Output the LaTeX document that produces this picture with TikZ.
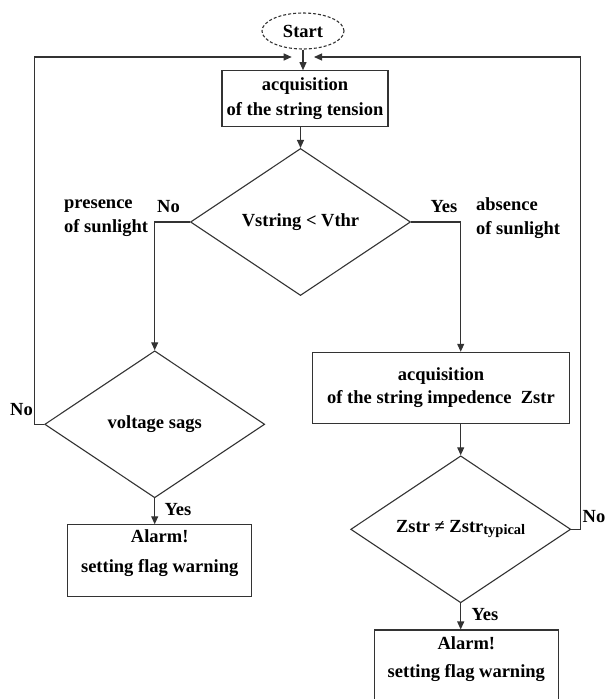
\documentclass[tikz,border=0pt]{standalone}
\usepackage{fontspec}
\setmainfont{Liberation Serif}
\usetikzlibrary{shapes.geometric,arrows.meta,positioning}

\begin{document}
\begin{tikzpicture}[x=1pt, y=-1pt,
  every node/.style={font=\fontsize{18.5}{24}\selectfont\bfseries, text=black},
  box/.style={draw=black!80, line width=1.1pt, inner sep=0pt, align=center},
  decision/.style={draw=black!80, line width=1.1pt, diamond, inner sep=0pt,
    minimum width=220pt, minimum height=147pt},
  arr/.style={draw=black!80, line width=1.1pt, -{Triangle[length=8pt,width=7pt]}},
  lbl/.style={inner sep=0pt}]
  \path[fill=white, use as bounding box] (0,0) rectangle (607,699);

  % Start and first acquisition
  \node[box, ellipse, densely dashed, minimum width=82pt, minimum height=36pt] (start) at (303,31) {Start};
  \node[box, minimum width=166pt, minimum height=56pt] (tension) at (305,98.7) {acquisition\\[1pt]of the string tension};
  \node[decision] (vcheck) at (300.5,222) {Vstring < Vthr};

  % --- left branch (presence of sunlight) ---
  \node[decision] (sags) at (154.7,424.3) {voltage sags};
  \node[box, minimum width=184pt, minimum height=72pt] (alarmA) at (159.7,560.8) {Alarm!\\[6pt]setting flag warning\rule[-20pt]{0pt}{20pt}};

  % --- right branch (absence of sunlight) ---
  \node[box, minimum width=257pt, minimum height=71pt] (impedance) at (441,387.8) {acquisition\\[-1pt]of the string impedence~~Zstr};
  \node[decision] (zcheck) at (460.7,529.3) {Zstr ≠ Zstr{\fontsize{14.5}{14.5}\selectfont\raisebox{-2pt}{typical}}};
  \node[box, minimum width=184pt, minimum height=72pt] (alarmB) at (466.3,666) {Alarm!\\[4pt]setting flag warning\rule[-18pt]{0pt}{18pt}};

  % Labels
  \node[lbl] (noA) at (168.5,207) {No};
  \node[lbl, align=left, anchor=west] (sunA) at (64,218) {presence\\of sunlight};
  \node[lbl] (yesA) at (444,207) {Yes};
  \node[lbl, align=left, anchor=west] (sunB) at (476,218) {absence\\of sunlight};
  \node[lbl] (noB) at (21.5,410) {No};
  \node[lbl] (yesB) at (178,510) {Yes};
  \node[lbl] (noC) at (594,517) {No};
  \node[lbl] (yesC) at (485,615) {Yes};

  % Connectors
  \coordinate (inL) at (291.7,57);
  \coordinate (inR) at (314,57);
  \draw[arr] (start) -- (start |- tension.north);
  \draw[arr] (vcheck.north |- tension.south) -- (vcheck.north);
  \draw[arr] (vcheck.west) -| (sags.north);
  \draw[arr] (vcheck.east) -| (zcheck.north |- impedance.north);
  \draw[arr] (zcheck.north |- impedance.south) -- (zcheck.north);
  \draw[arr] (sags.south) -- (sags.south |- alarmA.north);
  \draw[arr] (zcheck.south) -- (zcheck.south |- alarmB.north);
  % feedback loops
  \draw[arr] (sags.west) -- ++(-10,0) |- (inL);
  \draw[arr] (zcheck.east) -- ++(9.3,0) |- (inR);
\end{tikzpicture}
\end{document}
